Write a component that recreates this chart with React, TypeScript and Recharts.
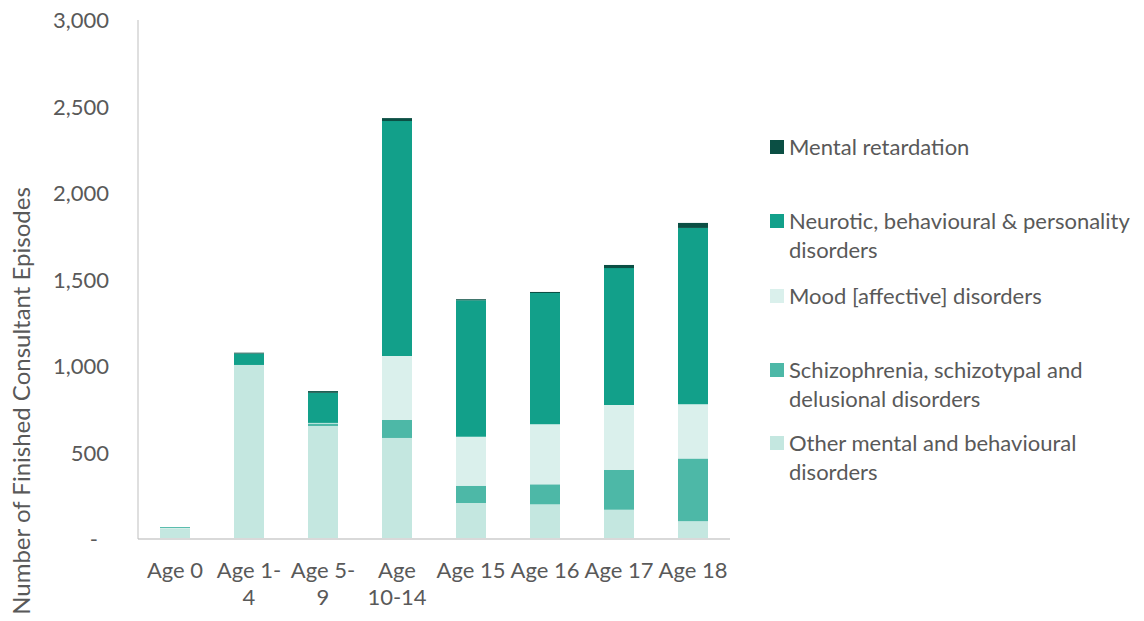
import React from 'react';
import { BarChart, Bar, XAxis, YAxis, Legend } from 'recharts';

const categories = ['Age 0', 'Age 1-4', 'Age 5-9', 'Age 10-14', 'Age 15', 'Age 16', 'Age 17', 'Age 18'];
const tickLines: string[][] = [['Age 0'], ['Age 1-', '4'], ['Age 5-', '9'], ['Age', '10-14'], ['Age 15'], ['Age 16'], ['Age 17'], ['Age 18']];
const other = [62, 1006, 653, 584, 208, 200, 169, 102];
const schizo = [0, 0, 15, 104, 100, 116, 230, 364];
const mood = [2, 0, 3, 370, 283, 347, 376, 313];
const neurotic = [4, 66, 174, 1358, 789, 759, 791, 1019];
const mental = [0, 5, 10, 17, 6, 6, 18, 29];
const yTicks = [0, 500, 1000, 1500, 2000, 2500, 3000];

const seriesNames = {
  mental: 'Mental retardation',
  neurotic: 'Neurotic, behavioural & personality disorders',
  mood: 'Mood [affective] disorders',
  schizo: 'Schizophrenia, schizotypal and delusional disorders',
  other: 'Other mental and behavioural disorders',
};

const colors = {
  mental: '#0B4F44',
  neurotic: '#12A08A',
  mood: '#DAF0EC',
  schizo: '#4DB8A7',
  other: '#C4E7E0',
};

const data = categories.map((c, i) => ({
  name: c,
  other: other[i],
  schizo: schizo[i],
  mood: mood[i],
  neurotic: neurotic[i],
  mental: mental[i],
}));

const FONT = 'Lato, "Open Sans", sans-serif';
const TEXT = '#595959';

const legendItems = [
  { key: 'mental', lines: ['Mental retardation'], top: 147 },
  { key: 'neurotic', lines: ['Neurotic, behavioural & personality', 'disorders'], top: 221 },
  { key: 'mood', lines: ['Mood [affective] disorders'], top: 296 },
  { key: 'schizo', lines: ['Schizophrenia, schizotypal and', 'delusional disorders'], top: 370 },
  { key: 'other', lines: ['Other mental and behavioural', 'disorders'], top: 443 },
];

const LegendContent = () => (
  <div style={{ position: 'relative', width: 1144, height: 621 }}>
    {legendItems.map((it) => (
      <div key={it.key}>
        <div
          style={{
            position: 'absolute',
            left: 770,
            top: it.top - 7,
            width: 14,
            height: 14,
            background: (colors as any)[it.key],
          }}
        />
        {it.lines.map((ln, j) => (
          <div
            key={j}
            style={{
              position: 'absolute',
              left: 789,
              top: it.top - 15 + j * 29,
              height: 30,
              lineHeight: '30px',
              fontFamily: FONT,
              fontSize: 22,
              color: TEXT,
              whiteSpace: 'nowrap',
            }}
          >
            {ln}
          </div>
        ))}
      </div>
    ))}
  </div>
);

const XTick = (props: any) => {
  const { x, index } = props;
  const lines = tickLines[index] || [];
  return (
    <g>
      {lines.map((ln, j) => (
        <text
          key={j}
          x={x}
          y={578 + j * 27}
          textAnchor="middle"
          fontFamily={FONT}
          fontSize={22}
          fill={TEXT}
        >
          {ln}
        </text>
      ))}
    </g>
  );
};

const YTick = (props: any) => {
  const { x, y, payload } = props;
  const v = payload.value;
  const label = v === 0 ? '-' : v.toLocaleString('en-US');
  return (
    <text
      x={v === 0 ? x - 11 : x}
      y={y + 8}
      textAnchor="end"
      fontFamily={FONT}
      fontSize={22}
      fill={TEXT}
    >
      {label}
    </text>
  );
};

export default function App() {
  return (
    <div style={{ position: 'absolute', left: 0, top: 0, width: 1144, height: 621, background: '#fff' }}>
      <BarChart
        width={1144}
        height={621}
        data={data}
        margin={{ top: 20, right: 414, left: 0, bottom: 0 }}
        barSize={30}
      >
        <XAxis
          dataKey="name"
          height={82}
          interval={0}
          tickLine={false}
          axisLine={{ stroke: '#D9D9D9', strokeWidth: 2 }}
          tick={<XTick />}
        />
        <YAxis
          width={138}
          domain={[0, 3000]}
          ticks={yTicks}
          tickLine={false}
          tickSize={0}
          tickMargin={29}
          axisLine={{ stroke: '#BFBFBF', strokeWidth: 1 }}
          tick={<YTick />}
          label={{
            value: 'Number of Finished Consultant Episodes',
            angle: -90,
            position: 'insideLeft',
            content: () => (
              <text
                x={0}
                y={0}
                transform="translate(30, 401) rotate(-90)"
                textAnchor="middle"
                fontFamily={FONT}
                fontSize={24}
                fill={TEXT}
              >
                Number of Finished Consultant Episodes
              </text>
            ),
          }}
        />
        <Legend
          layout="horizontal"
          verticalAlign="middle"
          align="center"
          wrapperStyle={{ position: 'absolute', left: 0, top: 0, width: 1144, height: 621, pointerEvents: 'none' }}
          content={<LegendContent />}
        />
        <Bar dataKey="other" name={seriesNames.other} stackId="a" fill={colors.other} isAnimationActive={false} />
        <Bar dataKey="schizo" name={seriesNames.schizo} stackId="a" fill={colors.schizo} isAnimationActive={false} />
        <Bar dataKey="mood" name={seriesNames.mood} stackId="a" fill={colors.mood} isAnimationActive={false} />
        <Bar dataKey="neurotic" name={seriesNames.neurotic} stackId="a" fill={colors.neurotic} isAnimationActive={false} />
        <Bar dataKey="mental" name={seriesNames.mental} stackId="a" fill={colors.mental} isAnimationActive={false} />
      </BarChart>
    </div>
  );
}
